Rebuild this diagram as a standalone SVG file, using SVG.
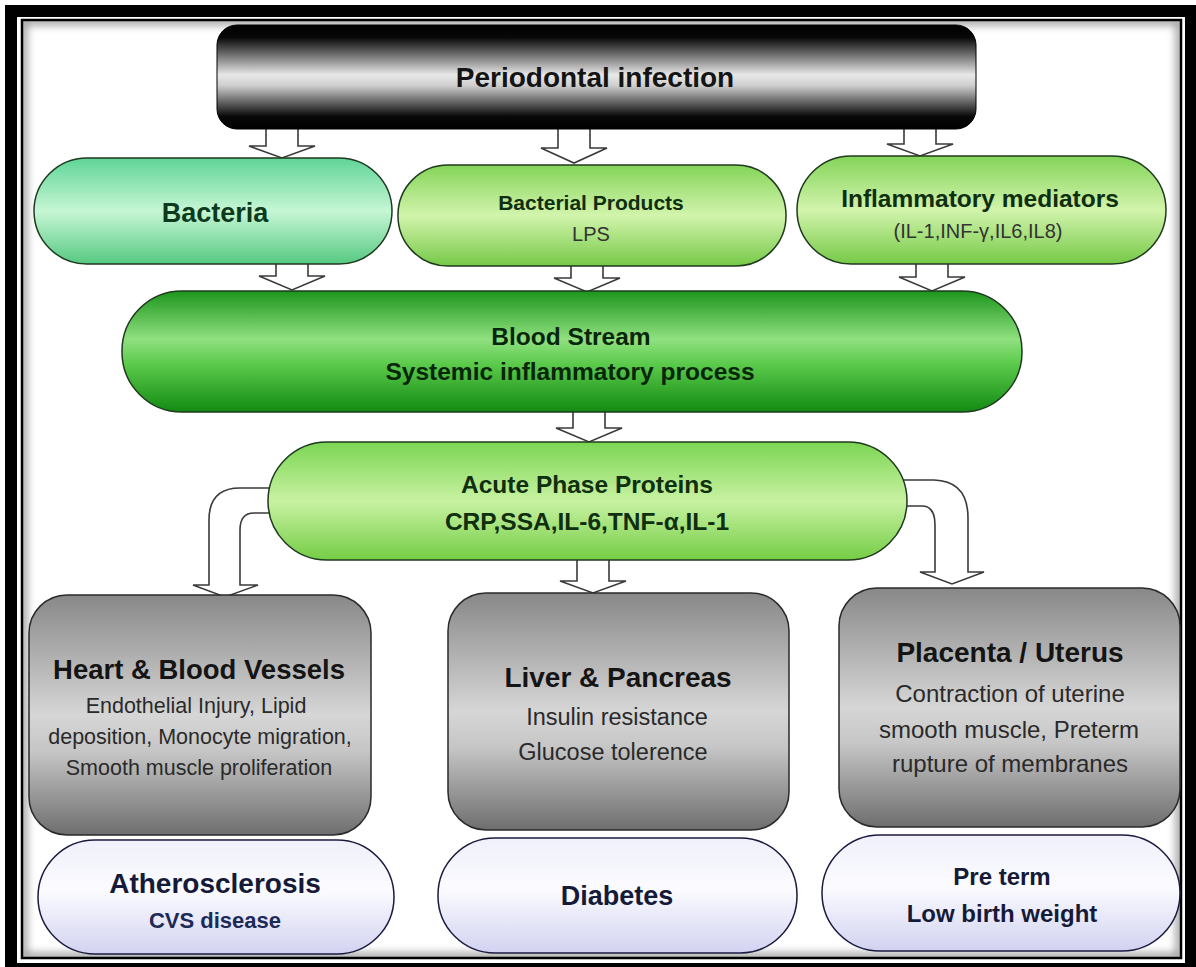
<svg xmlns="http://www.w3.org/2000/svg" width="1196" height="967" viewBox="0 0 1196 967">
<style>
text{font-family:"Liberation Sans",Arial,sans-serif;text-anchor:middle}
.b{font-weight:bold}
.arr{fill:#fff;stroke:#3a3a3a;stroke-width:1.6;stroke-linejoin:miter}
.grn{stroke:#1f3a1f;stroke-width:1.5}
.gry{fill:url(#gGray);stroke:#2a2a2a;stroke-width:1.5}
.lav{fill:url(#gLav);stroke:#1a1a40;stroke-width:1.5}
.tg{fill:#0f2f10}
.tk{fill:#141414}
.tb{fill:#2a2a2a}
.tn{fill:#151a38}
</style>
<defs>
<linearGradient id="gBlack" x1="0" y1="0" x2="0" y2="1">
<stop offset="0" stop-color="#000"/><stop offset="0.12" stop-color="#080808"/><stop offset="0.48" stop-color="#e8e8e8"/><stop offset="0.58" stop-color="#cfcfcf"/><stop offset="0.88" stop-color="#080808"/><stop offset="1" stop-color="#000"/>
</linearGradient>
<linearGradient id="gMint" x1="0" y1="0" x2="0" y2="1">
<stop offset="0" stop-color="#5fd597"/><stop offset="0.5" stop-color="#c6f6d4"/><stop offset="1" stop-color="#56c982"/>
</linearGradient>
<linearGradient id="gLime" x1="0" y1="0" x2="0" y2="1">
<stop offset="0" stop-color="#84d459"/><stop offset="0.5" stop-color="#d2f4ac"/><stop offset="1" stop-color="#76c947"/>
</linearGradient>
<linearGradient id="gAcute" x1="0" y1="0" x2="0" y2="1">
<stop offset="0" stop-color="#7cd553"/><stop offset="0.5" stop-color="#c8f2a2"/><stop offset="1" stop-color="#74cd45"/>
</linearGradient>
<linearGradient id="gBlood" x1="0" y1="0" x2="0" y2="1">
<stop offset="0" stop-color="#1c961c"/><stop offset="0.4" stop-color="#90e080"/><stop offset="0.6" stop-color="#5ccb4c"/><stop offset="1" stop-color="#128a12"/>
</linearGradient>
<linearGradient id="gGray" x1="0" y1="0" x2="0" y2="1">
<stop offset="0" stop-color="#888"/><stop offset="0.5" stop-color="#d6d6d6"/><stop offset="0.65" stop-color="#c6c6c6"/><stop offset="1" stop-color="#6e6e6e"/>
</linearGradient>
<linearGradient id="gLav" x1="0" y1="0" x2="0" y2="1">
<stop offset="0" stop-color="#f0f0fb"/><stop offset="0.45" stop-color="#fbfbff"/><stop offset="1" stop-color="#d2d2f1"/>
</linearGradient>
<clipPath id="inner"><rect x="23" y="21" width="1157" height="936"/></clipPath>
<filter id="blur" x="-5%" y="-5%" width="110%" height="110%"><feGaussianBlur stdDeviation="4"/></filter>
</defs>
<rect width="1196" height="967" fill="#fff"/>
<g id="frame">
<g clip-path="url(#inner)"><rect x="23" y="21" width="1157" height="936" fill="none" stroke="#9a9a9a" stroke-width="8" filter="url(#blur)"/></g>
<rect x="11" y="11" width="1180" height="958" fill="none" stroke="#000" stroke-width="12"/>
<rect x="22" y="20" width="1159" height="938" fill="none" stroke="#000" stroke-width="2.5"/>
</g>
<g id="connectors">
<path class="arr" d="M266,120 V146 H249 L282,158 L315,146 H298 V120"/>
<path class="arr" d="M558,120 V148 H541 L574,163 L607,148 H590 V120"/>
<path class="arr" d="M904,120 V144 H887 L920,156 L953,144 H936 V120"/>
<path class="arr" d="M276,255 V276 H259 L292,290 L325,276 H308 V255"/>
<path class="arr" d="M571,255 V278 H554 L587,292 L620,278 H603 V255"/>
<path class="arr" d="M916,255 V277 H899 L932,291 L965,277 H948 V255"/>
<path class="arr" d="M573,400 V428 H556 L589,442 L622,428 H605 V400"/>
<path class="arr" d="M577,550 V581 H560 L593,593 L626,581 H609 V550"/>
<path class="arr" d="M285,488 H240 Q209,488 209,520 V585 H193 L225,597 L258,585 H240 V530 Q240,513 254,513 H285"/>
<path class="arr" d="M890,480 H934 Q968,481 968,518 V572 H984 L952,584 L920,572 H935 V525 Q935,506 922,506 H890"/>
</g>
<g id="periodontal">
<rect x="217" y="25" width="759" height="104" rx="20" fill="url(#gBlack)" stroke="#000" stroke-width="1"/>
<text x="595" y="87" class="b tk" font-size="28">Periodontal infection</text>
</g>
<g id="bacteria">
<rect x="34" y="158" width="358" height="106" rx="53" fill="url(#gMint)" class="grn"/>
<text x="215" y="222" class="b" font-size="27" fill="#0c3a1c">Bacteria</text>
</g>
<g id="bacterial-products">
<rect x="398" y="165" width="388" height="101" rx="50" fill="url(#gLime)" class="grn"/>
<text x="591" y="210" class="b tg" font-size="21">Bacterial Products</text>
<text x="591" y="241" font-size="20" fill="#333">LPS</text>
</g>
<g id="inflammatory-mediators">
<rect x="797" y="156" width="369" height="108" rx="54" fill="url(#gLime)" class="grn"/>
<text x="980" y="207" class="b tg" font-size="24.5">Inflammatory mediators</text>
<text x="978" y="238" font-size="20" fill="#333">(IL-1,INF-γ,IL6,IL8)</text>
</g>
<g id="blood-stream">
<rect x="122" y="291" width="900" height="121" rx="60" fill="url(#gBlood)" class="grn"/>
<text x="571" y="345" class="b" font-size="24.5" fill="#0a260a">Blood Stream</text>
<text x="570" y="380" class="b" font-size="24.5" fill="#0a260a">Systemic inflammatory process</text>
</g>
<g id="acute-phase">
<rect x="268" y="442" width="639" height="118" rx="59" fill="url(#gAcute)" class="grn"/>
<text x="587" y="493" class="b tg" font-size="24.5">Acute Phase Proteins</text>
<text x="587" y="530" class="b tg" font-size="24.5">CRP,SSA,IL-6,TNF-α,IL-1</text>
</g>
<g id="heart">
<rect x="29" y="595" width="342" height="240" rx="38" class="gry"/>
<text x="199" y="679" class="b tk" font-size="27.5">Heart &amp; Blood Vessels</text>
<text x="196" y="713" class="tb" font-size="21.5">Endothelial Injury, Lipid</text>
<text x="200" y="744" class="tb" font-size="21.5">deposition, Monocyte migration,</text>
<text x="199" y="775" class="tb" font-size="21.5">Smooth muscle proliferation</text>
</g>
<g id="liver">
<rect x="448" y="593" width="341" height="237" rx="38" class="gry"/>
<text x="618" y="687" class="b tk" font-size="28">Liver &amp; Pancreas</text>
<text x="617" y="725" class="tb" font-size="23.5">Insulin resistance</text>
<text x="613" y="760" class="tb" font-size="23.5">Glucose tolerence</text>
</g>
<g id="placenta">
<rect x="839" y="588" width="341" height="239" rx="38" class="gry"/>
<text x="1010" y="662" class="b tk" font-size="28">Placenta / Uterus</text>
<text x="1010" y="702" class="tb" font-size="24">Contraction of uterine</text>
<text x="1009" y="738" class="tb" font-size="24">smooth muscle, Preterm</text>
<text x="1010" y="772" class="tb" font-size="24">rupture of membranes</text>
</g>
<g id="atherosclerosis">
<rect x="38" y="840" width="356" height="114" rx="57" class="lav"/>
<text x="215" y="893" class="b tn" font-size="28">Atherosclerosis</text>
<text x="215" y="928" class="b" font-size="22" fill="#1c2a58">CVS disease</text>
</g>
<g id="diabetes">
<rect x="438" y="838" width="359" height="115" rx="57" class="lav"/>
<text x="617" y="905" class="b tn" font-size="27">Diabetes</text>
</g>
<g id="preterm">
<rect x="822" y="835" width="358" height="116" rx="58" class="lav"/>
<text x="1002" y="885" class="b tn" font-size="24">Pre term</text>
<text x="1002" y="922" class="b tn" font-size="24">Low birth weight</text>
</g>
</svg>
